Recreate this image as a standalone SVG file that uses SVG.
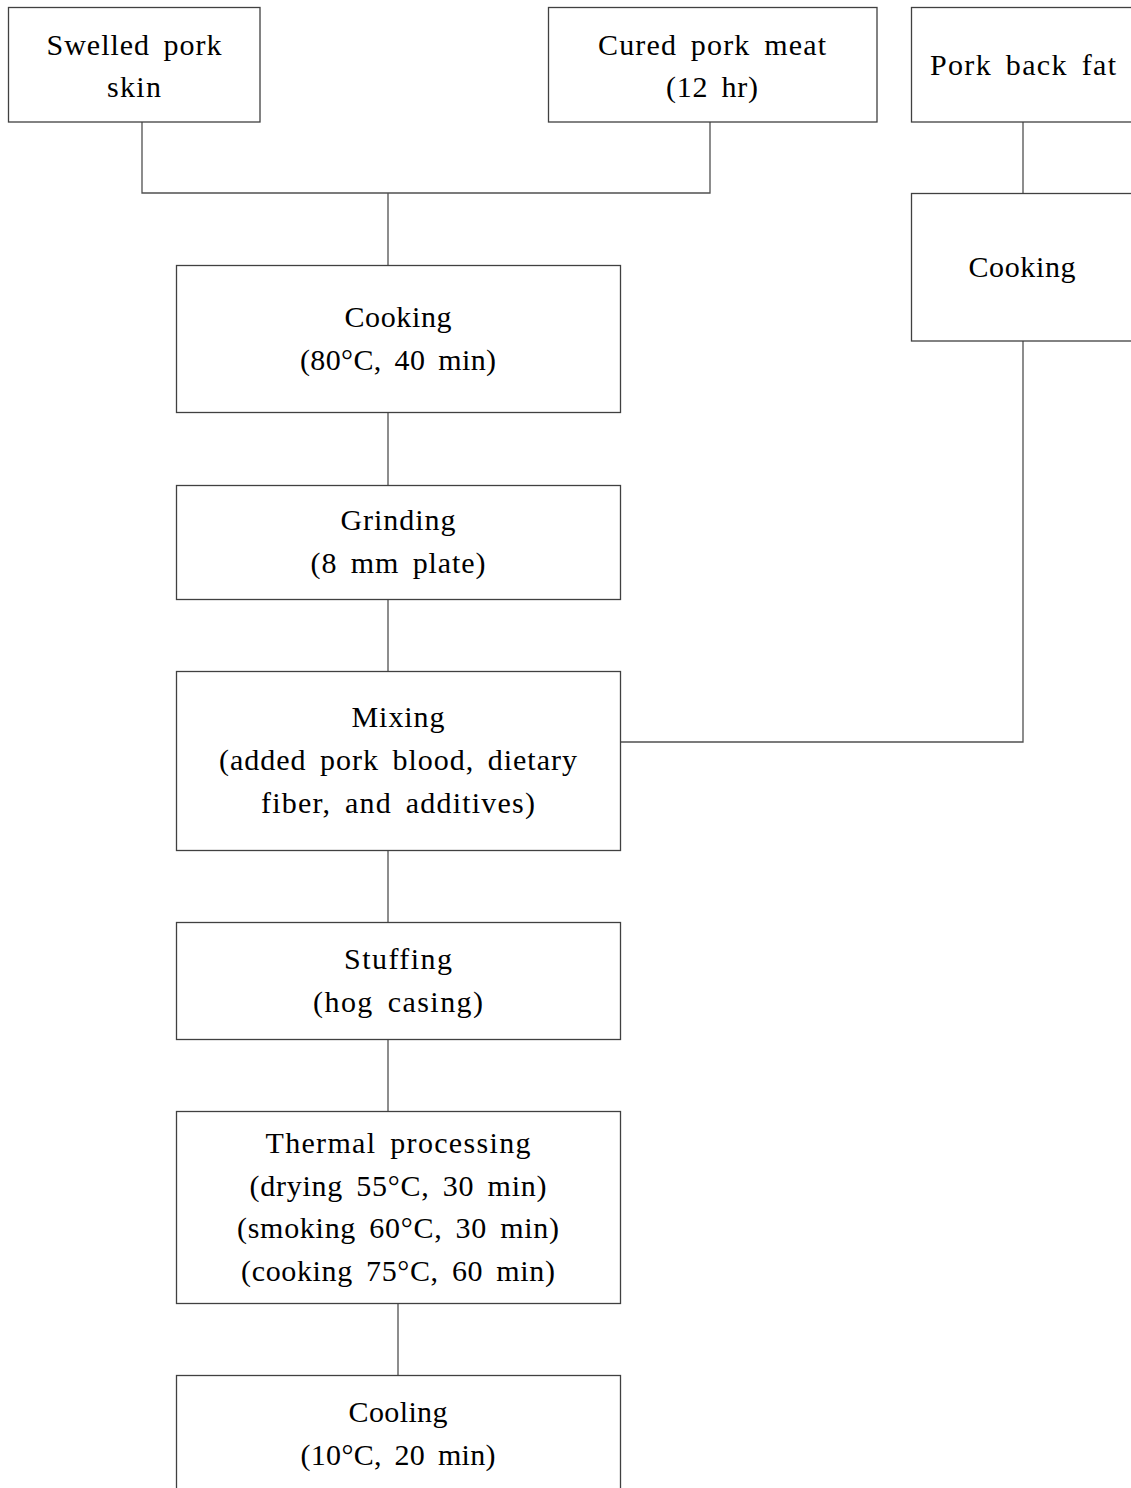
<svg xmlns="http://www.w3.org/2000/svg" width="1131" height="1488" viewBox="0 0 1131 1488">
  <style>
    .box { fill: #ffffff; stroke: #404040; stroke-width: 1.3; }
    .link { fill: none; stroke: #505050; stroke-width: 1.3; }
    text { font-family: "Liberation Serif", "Times New Roman", serif; font-size: 30px; fill: #000000; text-anchor: middle; word-spacing: 5px; }
  </style>
  <rect width="1131" height="1488" fill="#ffffff"/>

  <!-- process flow connectors -->
  <g id="connectors">
    <polyline class="link" points="142,122 142,193 710,193 710,122"/>
    <line class="link" x1="388" y1="193" x2="388" y2="265"/>
    <line class="link" x1="1023" y1="122" x2="1023" y2="193"/>
    <polyline class="link" points="1023,341 1023,742 620,742"/>
    <line class="link" x1="388" y1="412" x2="388" y2="485"/>
    <line class="link" x1="388" y1="599" x2="388" y2="671"/>
    <line class="link" x1="388" y1="850" x2="388" y2="922"/>
    <line class="link" x1="388" y1="1039" x2="388" y2="1111"/>
    <line class="link" x1="398" y1="1303" x2="398" y2="1375"/>
  </g>

  <g id="pork-skin">
    <rect class="box" x="8.5" y="7.5" width="251.5" height="114.5"/>
    <text x="134" y="55" textLength="175" lengthAdjust="spacing">Swelled pork</text>
    <text x="134" y="97" textLength="54" lengthAdjust="spacing">skin</text>
  </g>

  <g id="cured-meat">
    <rect class="box" x="548.5" y="7.5" width="328.5" height="114.5"/>
    <text x="712" y="55" textLength="228" lengthAdjust="spacing">Cured pork meat</text>
    <text x="712" y="97" textLength="92" lengthAdjust="spacing">(12 hr)</text>
  </g>

  <g id="back-fat">
    <rect class="box" x="911.5" y="7.5" width="230" height="114.5"/>
    <text x="1023" y="75" textLength="186" lengthAdjust="spacing">Pork back fat</text>
  </g>

  <g id="fat-cooking">
    <rect class="box" x="911.5" y="193.5" width="230" height="147.5"/>
    <text x="1022" y="277" textLength="107" lengthAdjust="spacing">Cooking</text>
  </g>

  <g id="cooking">
    <rect class="box" x="176.5" y="265.5" width="444" height="147"/>
    <text x="398" y="327" textLength="107" lengthAdjust="spacing">Cooking</text>
    <text x="398" y="370" textLength="196" lengthAdjust="spacing">(80°C, 40 min)</text>
  </g>

  <g id="grinding">
    <rect class="box" x="176.5" y="485.5" width="444" height="114"/>
    <text x="398" y="530" textLength="115" lengthAdjust="spacing">Grinding</text>
    <text x="398" y="573" textLength="175" lengthAdjust="spacing">(8 mm plate)</text>
  </g>

  <g id="mixing">
    <rect class="box" x="176.5" y="671.5" width="444" height="179"/>
    <text x="398" y="727" textLength="93" lengthAdjust="spacing">Mixing</text>
    <text x="398" y="770" textLength="358" lengthAdjust="spacing">(added pork blood, dietary</text>
    <text x="398" y="813" textLength="274" lengthAdjust="spacing">fiber, and additives)</text>
  </g>

  <g id="stuffing">
    <rect class="box" x="176.5" y="922.5" width="444" height="117"/>
    <text x="398" y="969" textLength="108" lengthAdjust="spacing">Stuffing</text>
    <text x="398" y="1012" textLength="170" lengthAdjust="spacing">(hog casing)</text>
  </g>

  <g id="thermal">
    <rect class="box" x="176.5" y="1111.5" width="444" height="192"/>
    <text x="398" y="1153" textLength="265" lengthAdjust="spacing">Thermal processing</text>
    <text x="398" y="1196" textLength="297" lengthAdjust="spacing">(drying 55°C, 30 min)</text>
    <text x="398" y="1238" textLength="322" lengthAdjust="spacing">(smoking 60°C, 30 min)</text>
    <text x="398" y="1281" textLength="314" lengthAdjust="spacing">(cooking 75°C, 60 min)</text>
  </g>

  <g id="cooling">
    <rect class="box" x="176.5" y="1375.5" width="444" height="130"/>
    <text x="398" y="1422" textLength="99" lengthAdjust="spacing">Cooling</text>
    <text x="398" y="1465" textLength="195" lengthAdjust="spacing">(10°C, 20 min)</text>
  </g>
</svg>
